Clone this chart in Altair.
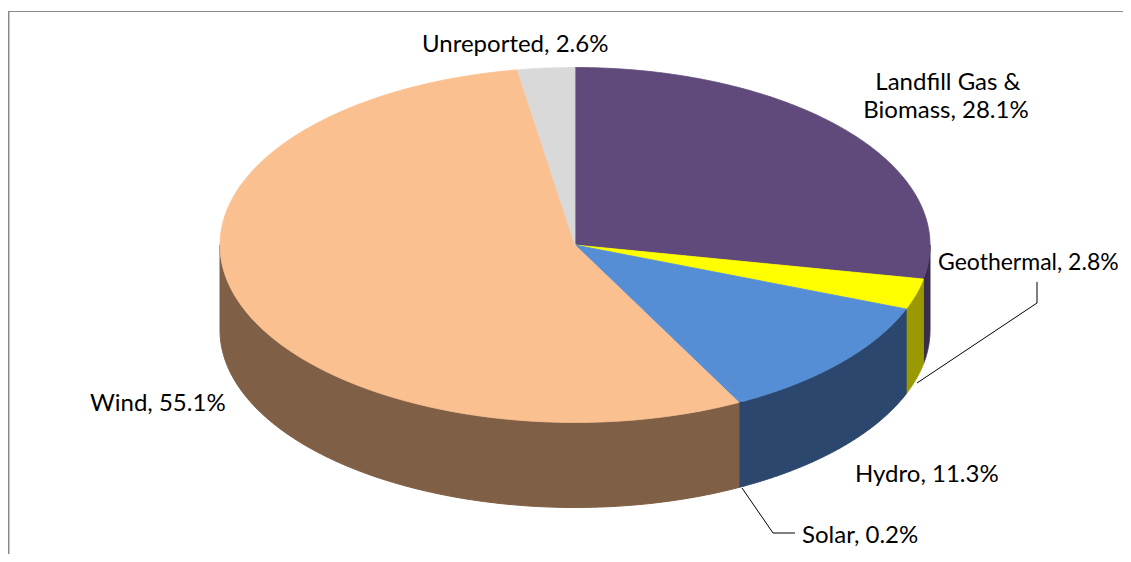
import altair as alt
import pandas as pd

# ---- data ----
categories = ["Landfill Gas & Biomass", "Geothermal", "Hydro", "Solar", "Wind", "Unreported"]
values = [28.1, 2.8, 11.3, 0.2, 55.1, 2.6]

# ---- styles ----
top_colors = ["#604A7B", "#FFFF00", "#558ED5", "#558ED5", "#FAC090", "#D9D9D9"]
side_colors = ["#3A2C4C", "#9A9A00", "#2B476D", "#2B476D", "#7F5F45", "#8C8C8C"]

# ---- layout of the tilted pie (pixels) ----
CX, CY, RX, RY, DEPTH = 575, 245, 355, 177.5, 85
FONT = "Lato"
FS = 24
W, H = 1115, 546

df = pd.DataFrame({"category": categories, "value": values, "idx": list(range(len(values)))})
df["side"] = [c + " side" for c in categories]

xs = alt.X("px:Q", scale=alt.Scale(domain=[8, 8 + W], nice=False, zero=False), axis=None)
ys = alt.Y("py:Q", scale=alt.Scale(domain=[8, 8 + H], nice=False, zero=False, reverse=True), axis=None)

base = (
    alt.Chart(df)
    .transform_window(cum="sum(value)", sort=[alt.SortField("idx")], frame=[None, 0])
    .transform_joinaggregate(total="sum(value)")
    .transform_calculate(
        a0="2*PI*(datum.cum-datum.value)/datum.total",
        a1="2*PI*datum.cum/datum.total",
    )
)

N = 120
# front walls (only the part facing the viewer)
side = (
    base.transform_calculate(b0="max(datum.a0, PI/2)", b1="min(datum.a1, 3*PI/2)")
    .transform_filter("datum.b1 > datum.b0")
    .transform_calculate(pts=f"sequence(0, {2*N})")
    .transform_flatten(["pts"], as_=["t"])
    .transform_calculate(
        ang=f"datum.t < {N} ? datum.b0 + (datum.b1-datum.b0)*datum.t/{N-1} : datum.b1 - (datum.b1-datum.b0)*(datum.t-{N})/{N-1}",
    )
    .transform_calculate(
        px=f"{CX} + {RX}*sin(datum.ang)",
        py=f"{CY} - {RY}*cos(datum.ang) + (datum.t >= {N} ? {DEPTH} : 0)",
    )
    .mark_line(interpolate="linear-closed", filled=True, strokeWidth=1)
    .encode(
        x=xs, y=ys, order="t:Q", detail="side:N",
        fill=alt.Fill("side:N", scale=alt.Scale(domain=list(df["side"]), range=side_colors), legend=None),
        stroke=alt.Stroke("side:N", scale=alt.Scale(domain=list(df["side"]), range=side_colors), legend=None),
    )
)

# top faces
top = (
    base.transform_calculate(pts=f"sequence(0, {N+1})")
    .transform_flatten(["pts"], as_=["t"])
    .transform_calculate(ang=f"datum.a0 + (datum.a1-datum.a0)*(datum.t-1)/{N-1}")
    .transform_calculate(
        px=f"datum.t == 0 ? {CX} : {CX} + {RX}*sin(datum.ang)",
        py=f"datum.t == 0 ? {CY} : {CY} - {RY}*cos(datum.ang)",
    )
    .mark_line(interpolate="linear-closed", filled=True, strokeWidth=0.8)
    .encode(
        x=xs, y=ys, order="t:Q", detail="category:N",
        fill=alt.Fill("category:N", scale=alt.Scale(domain=categories, range=top_colors), legend=None),
        stroke=alt.Stroke("category:N", scale=alt.Scale(domain=categories, range=top_colors), legend=None),
    )
)

# ---- labels (annotation layout) ----
label_text = ["Unreported, 2.6%", "Landfill Gas &", "Biomass, 28.1%", "Geothermal, 2.8%",
              "Hydro, 11.3%", "Solar, 0.2%", "Wind, 55.1%"]
label_x = [422, 948, 946, 938, 855, 802, 90]
label_y = [52, 90, 118, 270, 482, 543, 411]
label_size = [FS, FS, FS, 23, FS, FS, FS]
label_align = ["left", "center", "center", "left", "left", "left", "left"]
lab = pd.DataFrame({"text": label_text, "px": label_x, "py": label_y, "align": label_align,
                    "fs": label_size})

labels_left = alt.Chart(lab[lab["align"] == "left"]).mark_text(
    align="left", baseline="alphabetic", font=FONT, color="#000000"
).encode(x=xs, y=ys, text="text:N", size=alt.Size("fs:Q", scale=None, legend=None))
labels_center = alt.Chart(lab[lab["align"] == "center"]).mark_text(
    align="center", baseline="alphabetic", font=FONT, color="#000000"
).encode(x=xs, y=ys, text="text:N", size=alt.Size("fs:Q", scale=None, legend=None))

# leader lines
lead = pd.DataFrame({
    "grp": ["geo", "geo", "geo", "sol", "sol", "sol"],
    "o": [0, 1, 2, 0, 1, 2],
    "px": [1037, 1037, 917, 742, 773, 795],
    "py": [282, 303, 383, 488, 533, 533],
})
leaders = alt.Chart(lead).mark_line(color="#000000", strokeWidth=1).encode(
    x=xs, y=ys, order="o:Q", detail="grp:N"
)

# chart frame (left and top edges visible)
frame_left = alt.Chart(df).mark_rule(color="#888888", strokeWidth=1.2).encode(
    x=alt.value(0.5), y=alt.value(3.5), y2=alt.value(H)
)
frame_top = alt.Chart(df).mark_rule(color="#888888", strokeWidth=1.2).encode(
    x=alt.value(0.5), x2=alt.value(W), y=alt.value(3.5)
)

chart = (
    alt.layer(frame_left, frame_top, side, top, leaders, labels_left, labels_center)
    .resolve_scale(fill="independent", stroke="independent")
    .properties(width=W, height=H, autosize=alt.AutoSizeParams(type="none"), padding=0,
                background="#ffffff")
    .configure_view(stroke=None)
)

chart.save("out.html", embed_options={"renderer": "svg", "actions": False})
